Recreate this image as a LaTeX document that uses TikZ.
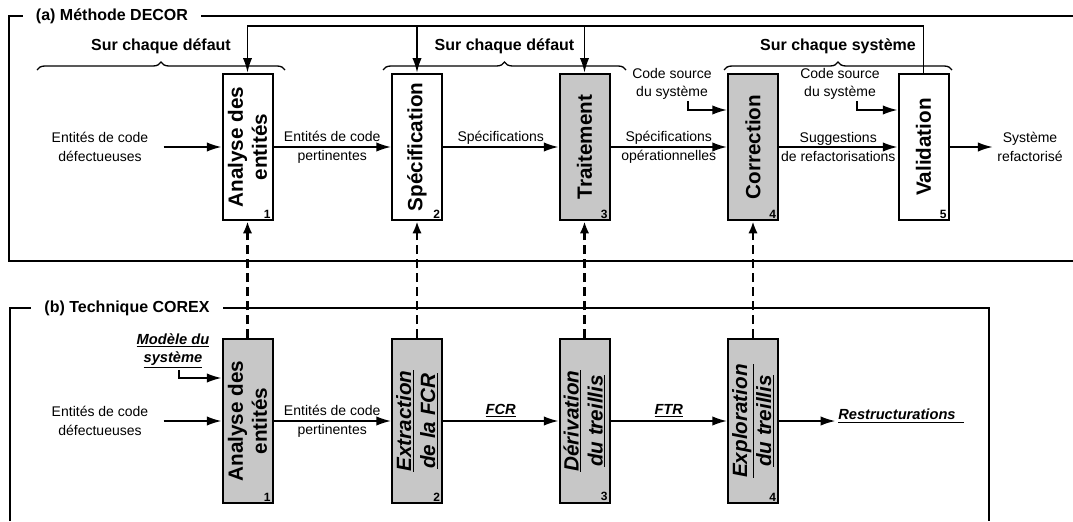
\documentclass[tikz,border=0pt]{standalone}
\usepackage{fontspec}
\setmainfont{Liberation Sans}
\usetikzlibrary{positioning,arrows.meta,decorations.pathreplacing}
\tikzstyle{etape} = [rectangle, draw=black, line width=1.5pt, minimum width=37.5pt, inner sep=0pt]
\tikzstyle{haut} = [etape, minimum height=110pt]
\tikzstyle{bas} = [etape, minimum height=123pt]
\tikzstyle{grise} = [fill=black!22]
\tikzstyle{fleche} = [line width=1.2pt, -{Latex[length=11pt,width=7pt]}]
\tikzset{
 titre/.style
  = {font=\fontsize{15.5}{18}\selectfont\bfseries, rotate=90, align=center},
 titreit/.style
  = {titre, font=\fontsize{15.5}{18}\selectfont\bfseries\itshape},
 num/.style
  = {font=\fontsize{9}{10}\selectfont\bfseries, anchor=south east, inner sep=2pt},
 txt/.style
  = {font=\fontsize{10.5}{14}\selectfont, align=center},
 txtit/.style
  = {font=\fontsize{11}{13.5}\selectfont\bfseries\itshape, align=center},
 cadre/.style
  = {line width=1.5pt},
 entete/.style
  = {font=\fontsize{12}{14}\selectfont\bfseries, fill=white, inner xsep=10pt},
 sur/.style
  = {font=\fontsize{12}{14}\selectfont\bfseries},
 accolade/.style
  = {decorate, decoration={brace, amplitude=6pt}, line width=1pt},
 pointille/.style
  = {line width=2.2pt, dash pattern=on 7pt off 3.5pt, -{Latex[length=9pt,width=7pt]}},
}
\begin{document}
\begin{tikzpicture}[x=0.75pt, y=0.75pt]
\useasboundingbox (0,0) rectangle (1073,-521);

% cadres (a) et (b)
\draw[cadre] (1073,-16) -- (9,-16) -- (9,-261) -- (1073,-261);
\node (cadreA) [entete] at (112,-16) {(a) Méthode DECOR};
\draw[cadre] (10,-521) -- (10,-308) -- (989,-308) -- (989,-521);
\node (cadreB) [entete] at (127,-308) {(b) Technique COREX};

% etapes DECOR
\node (a1) [haut] at (247.5,-147) {};
\node (a2) [haut] at (417,-147) {};
\node (a3) [haut, grise] at (584.5,-147) {};
\node (a4) [haut, grise] at (753,-147) {};
\node (a5) [haut] at (923.5,-147) {};
\node (ta1) [titre] at (a1) {Analyse des\\entités};
\node (ta2) [titre] at (a2) {Spécification};
\node (ta3) [titre] at (a3) {Traitement};
\node (ta4) [titre] at (a4) {Correction};
\node (ta5) [titre] at (a5) {Validation};
\node (na1) [num] at (a1.south east) {1};
\node (na2) [num] at (a2.south east) {2};
\node (na3) [num] at (a3.south east) {3};
\node (na4) [num] at (a4.south east) {4};
\node (na5) [num] at (a5.south east) {5};

% etapes COREX
\node (b1) [bas, grise] at (247.5,-421) {};
\node (b2) [bas, grise] at (417,-421) {};
\node (b3) [bas, grise] at (584.5,-421) {};
\node (b4) [bas, grise] at (753,-421) {};
\node (tb1) [titre] at (b1) {Analyse des\\entités};
\node (tb2) [titreit] at (b2) {\underline{Extraction}\\\underline{de la FCR}};
\node (tb3) [titreit] at (b3) {\underline{Dérivation}\\\underline{du treillis}};
\node (tb4) [titreit] at (b4) {\underline{Exploration}\\\underline{du treillis}};
\node (nb1) [num] at (b1.south east) {1};
\node (nb2) [num] at (b2.south east) {2};
\node (nb3) [num] at (b3.south east) {3};
\node (nb4) [num] at (b4.south east) {4};

% accolades
\draw[accolade] (37,-70) -- node (surA) [sur, above=8pt] {Sur chaque défaut} (285,-70);
\draw[accolade] (383,-70) -- node (surB) [sur, above=8pt] {Sur chaque défaut} (626,-70);
\draw[accolade] (724,-70) -- node (surC) [sur, above=8pt] {Sur chaque système} (952,-70);

% flux DECOR
\node (defA) [txt] at (100,-147) {Entités de code\\défectueuses};
\draw[fleche, shorten <=8pt] (defA) -- (a1);
\draw[fleche] (a1) -- node (pertA) [txt] {Entités de code\\pertinentes} (a2);
\draw[fleche] (a2) -- node (specA) [txt, above, inner sep=1pt] {Spécifications} (a3);
\draw[fleche] (a3) -- node (specOp) [txt] {Spécifications\\opérationnelles} (a4);
\draw[fleche] (a4) -- node (sugg) [txt] {Suggestions\\de refactorisations} (a5);
\node (sortie) [txt] at (1030,-147) {Système\\refactorisé};
\draw[fleche] (a5) -- (sortie);
\node (codeA) [txt, inner ysep=1pt] at (672,-84) {Code source\\du système};
\draw[fleche] ([xshift=12pt]codeA.south) |- ([yshift=27.75pt]a4.west);
\node (codeB) [txt, inner ysep=1pt] at (840,-84) {Code source\\du système};
\draw[fleche] ([xshift=12.75pt]codeB.south) |- ([yshift=27.75pt]a5.west);

% retour de la validation
\coordinate (boucle) at (0,-26);
\draw[fleche] (a5.north) |- (boucle -| a1) -- (a1.north);
\draw[fleche] (boucle -| a2) -- (a2.north);
\draw[fleche] (boucle -| a3) -- (a3.north);

% flux COREX
\node (modele) [txtit, inner ysep=1pt] at (173,-351) {\underline{Modèle du}\\\underline{système}};
\draw[fleche] ([xshift=4.5pt]modele.south) |- ([yshift=32.25pt]b1.west);
\node (defB) [txt] at (100,-421) {Entités de code\\défectueuses};
\draw[fleche, shorten <=8pt] (defB) -- (b1);
\draw[fleche] (b1) -- node (pertB) [txt] {Entités de code\\pertinentes} (b2);
\draw[fleche] (b2) -- node (fcr) [txtit, above, inner sep=2pt] {\underline{FCR}} (b3);
\draw[fleche] (b3) -- node (ftr) [txtit, above, inner sep=2pt] {\underline{FTR}} (b4);
\node (restr) [txtit, anchor=south west, inner sep=0pt] at (838,-423) {\underline{\makebox[94pt][l]{Restructurations}}};
\draw[fleche] (b4) -- ([xshift=-2pt]restr.west |- b4);

% correspondances COREX -> DECOR
\draw[pointille] (b1) -- (a1);
\draw[pointille] (b2) -- (a2);
\draw[pointille] (b3) -- (a3);
\draw[pointille] (b4) -- (a4);
\end{tikzpicture}
\end{document}
